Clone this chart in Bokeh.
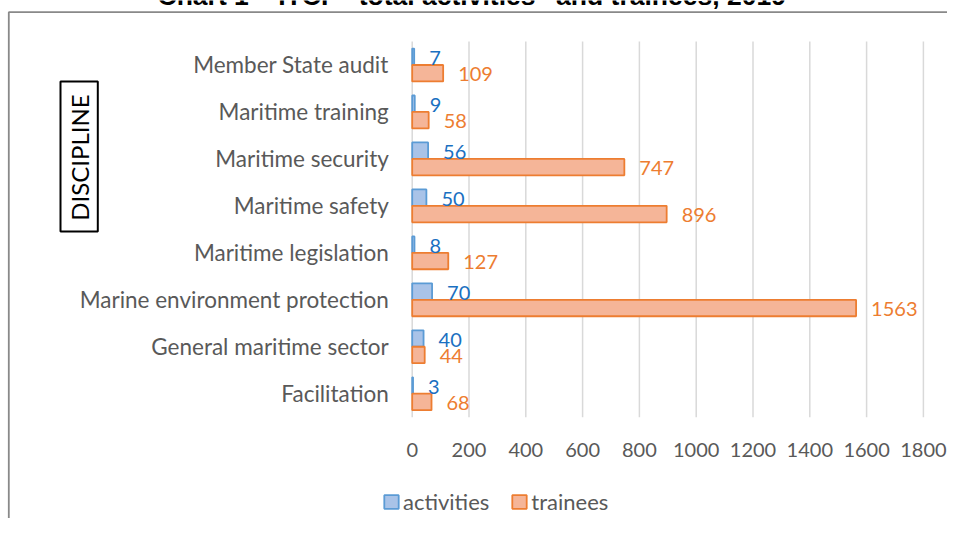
import math
from bokeh.plotting import figure
from bokeh.models import (ColumnDataSource, Range1d, Legend, LegendItem, BoxAnnotation)
from bokeh.core.properties import value
from bokeh.embed import file_html
from bokeh.resources import INLINE

# ---- data (bottom -> top, as in the chart) ----
categories = ["Facilitation", "General maritime sector", "Marine environment protection",
              "Maritime legislation", "Maritime safety", "Maritime security",
              "Maritime training", "Member State audit"]
activities = [3, 40, 70, 8, 50, 56, 9, 7]
trainees = [68, 44, 1563, 127, 896, 747, 58, 109]
x_ticks = [0, 200, 400, 600, 800, 1000, 1200, 1400, 1600, 1800]
series_names = ["activities", "trainees"]
title_text = "Chart 1 \u2013 ITCP \u201ctotal activities\u201d and trainees, 2019"
axis_title = "DISCIPLINE"

# ---- layout (canvas pixels) ----
FONT = "Lato"
W, H = 947, 518
PLOT_L, PLOT_R = 411.7, 922.9     # x of first / last tick
PLOT_T, PLOT_B = 41.0, 416.7      # top / bottom of the category bands
n = len(categories)
KX = (PLOT_R - PLOT_L) / (x_ticks[-1] - x_ticks[0])
KY = (PLOT_B - PLOT_T) / n


def px_x(px):
    return x_ticks[0] + (px - PLOT_L) / KX


def px_y(py):
    return (n - 0.5) - (py - PLOT_T) / KY


ypos = list(range(n))
bw = 0.35

src = ColumnDataSource(dict(
    cat=categories,
    y=ypos,
    y_act=[y + bw / 2 for y in ypos],
    y_tr=[y - bw / 2 for y in ypos],
    zero=[0] * n,
    activities=activities,
    trainees=trainees,
    act_lbl=[str(v) for v in activities],
    tr_lbl=[str(v) for v in trainees],
))
tick_src = ColumnDataSource(dict(
    x=x_ticks,
    lo=[-0.5] * len(x_ticks),
    hi=[n - 0.5] * len(x_ticks),
    lbl=[str(t) for t in x_ticks],
))

p = figure(width=W, height=H, output_backend="svg", toolbar_location=None,
           x_range=Range1d(px_x(0), px_x(W)), y_range=Range1d(px_y(H), px_y(0)),
           x_axis_location=None, y_axis_location=None, min_border=0)
p.outline_line_color = None
p.background_fill_color = "white"
p.border_fill_color = "white"
p.xgrid.visible = False
p.ygrid.visible = False

# chart border (top and left edges visible)
p.add_layout(BoxAnnotation(left=px_x(8.3), right=px_x(W + 50), top=px_y(11.7), bottom=px_y(H + 50),
                           fill_alpha=0, line_color="#898989", line_alpha=1, line_width=1.8,
                           level="underlay"))

# axis title box
p.add_layout(BoxAnnotation(left=px_x(60), right=px_x(97.3), top=px_y(81), bottom=px_y(231),
                           fill_color="white", fill_alpha=1, line_color="black", line_alpha=1,
                           line_width=2, level="underlay"))

# vertical gridlines
p.segment(x0="x", x1="x", y0="lo", y1="hi", source=tick_src,
          line_color="#d9d9d9", line_width=1.5)

# bars
r_act = p.hbar(y="y_act", left="zero", right="activities", height=bw, source=src,
               fill_color="#a9c3e8", line_color="#5b9bd5", line_width=1.8)
r_tr = p.hbar(y="y_tr", left="zero", right="trainees", height=bw, source=src,
              fill_color="#f5b598", line_color="#ed7d31", line_width=1.8)

# data labels
p.text(x="activities", y="y_act", text="act_lbl", source=src,
       x_offset=15, y_offset=1, text_baseline="middle", text_align="left",
       text_font=value(FONT), text_font_size="20px", text_color="#1a70c1")
p.text(x="trainees", y="y_tr", text="tr_lbl", source=src,
       x_offset=15, y_offset=1, text_baseline="middle", text_align="left",
       text_font=value(FONT), text_font_size="20px", text_color="#ed7d31")

# category labels (value axis origin)
p.text(x="zero", y="y", text="cat", source=src, x_offset=-23.4, y_offset=0,
       text_baseline="middle", text_align="right",
       text_font=value(FONT), text_font_size="22.5px", text_color="#595959")

# value tick labels
p.text(x="x", y="lo", text="lbl", source=tick_src, y_offset=32.6,
       text_baseline="middle", text_align="center",
       text_font=value(FONT), text_font_size="20px", text_color="#595959")

# legend
legend = Legend(items=[LegendItem(label=series_names[0], renderers=[r_act]),
                       LegendItem(label=series_names[1], renderers=[r_tr])],
                orientation="horizontal", location=(382, 3.3),
                glyph_width=18, glyph_height=17, label_standoff=3, spacing=21,
                padding=0, margin=0, border_line_color=None, background_fill_alpha=0,
                label_text_font=FONT, label_text_font_size="22px", label_text_color="#595959")
p.add_layout(legend, "center")

# axis title
p.text(x=[px_x(79)], y=[px_y(157)], text=[axis_title], angle=math.pi / 2,
       text_align="center", text_baseline="middle",
       text_font=value(FONT), text_font_size="24px", text_color="black")

# title (cut off at the top as in the reference)
p.text(x=[px_x(157)], y=[px_y(-4.5)], text=[title_text], text_align="left",
       text_baseline="alphabetic", text_font=value("Liberation Sans"),
       text_font_style="bold", text_font_size="26.5px", text_color="black")

open("out.html", "w").write(file_html(p, INLINE))
